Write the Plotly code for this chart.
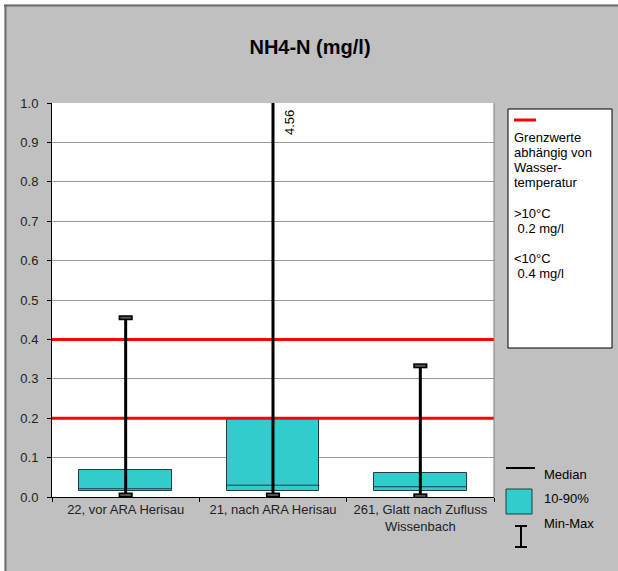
import plotly.graph_objects as go

categories = ["22, vor ARA Herisau", "21, nach ARA Herisau", "261, Glatt nach Zufluss<br>Wissenbach"]
p10 = [0.015, 0.015, 0.014]
p90 = [0.068, 0.200, 0.062]
median = [0.021, 0.030, 0.026]
vmin = [0.005, 0.005, 0.003]
vmax = [0.455, 4.56, 0.333]
limits = [0.2, 0.4]
yticks = [0.0, 0.1, 0.2, 0.3, 0.4, 0.5, 0.6, 0.7, 0.8, 0.9, 1.0]

W, H = 618, 571
L, R, T, B = 52, 494, 103, 497
TEAL = "#33CCCC"
BG = "#C0C0C0"
FONT = "Liberation Sans, Arial, sans-serif"


def px(x):
    return (x - L) / (R - L)


def py(y):
    return (B - y) / (B - T)


xs = list(range(len(categories)))
half = 0.315
cap = 0.048

fig = go.Figure()

fig.add_trace(go.Bar(
    x=xs, y=[b - a for a, b in zip(p10, p90)], base=p10, width=2 * half,
    marker=dict(color=TEAL, line=dict(color="#1f3f3f", width=1)),
    hoverinfo="skip", showlegend=False))

for lv in limits:
    fig.add_trace(go.Scatter(x=[-0.5, len(xs) - 0.5], y=[lv, lv], mode="lines",
                             line=dict(color="#FF0000", width=3), showlegend=False, hoverinfo="skip"))

for i, m in zip(xs, median):
    fig.add_trace(go.Scatter(x=[i - half, i + half], y=[m, m], mode="lines",
                             line=dict(color="#1f3f3f", width=1), showlegend=False, hoverinfo="skip"))

for i, a, b in zip(xs, vmin, vmax):
    fig.add_trace(go.Scatter(x=[i, i], y=[a, b], mode="lines",
                             line=dict(color="black", width=3), showlegend=False, hoverinfo="skip"))
    for v in (a, b):
        if v <= 1.0:
            fig.add_trace(go.Scatter(x=[i - cap, i + cap], y=[v, v], mode="lines",
                                     line=dict(color="black", width=5), showlegend=False, hoverinfo="skip"))
            fig.add_trace(go.Scatter(x=[i - cap + 0.012, i + cap - 0.012], y=[v, v], mode="lines",
                                     line=dict(color="#555555", width=2), showlegend=False, hoverinfo="skip"))
    if b > 1.0:
        fig.add_annotation(x=i, y=1.0, xref="x", yref="y", text=f"{b:.2f}", textangle=-90,
                           showarrow=False, xanchor="left", yanchor="top", xshift=7, yshift=-5,
                           font=dict(family=FONT, size=13, color="black"))

shapes = []
# white strips outside the gray frame (top and left) and dark frame lines
shapes.append(dict(type="rect", xref="paper", yref="paper", layer="below",
                   x0=px(-5), x1=px(625), y0=py(4.5), y1=py(-5),
                   fillcolor="white", line=dict(width=0)))
shapes.append(dict(type="rect", xref="paper", yref="paper", layer="below",
                   x0=px(-5), x1=px(4.5), y0=py(580), y1=py(-5),
                   fillcolor="white", line=dict(width=0)))
shapes.append(dict(type="line", xref="paper", yref="paper",
                   x0=px(4), x1=px(618), y0=py(5.5), y1=py(5.5),
                   line=dict(color="#6b6b6b", width=2)))
shapes.append(dict(type="line", xref="paper", yref="paper",
                   x0=px(5.5), x1=px(5.5), y0=py(571), y1=py(5),
                   line=dict(color="#6b6b6b", width=2)))
# right border of plot area
shapes.append(dict(type="line", xref="paper", yref="paper", x0=1, x1=1, y0=0, y1=1,
                   line=dict(color="#808080", width=1)))
# legend box
shapes.append(dict(type="rect", xref="paper", yref="paper",
                   x0=px(508), x1=px(612), y0=py(348), y1=py(109),
                   fillcolor="white", line=dict(color="black", width=1)))
shapes.append(dict(type="line", xref="paper", yref="paper",
                   x0=px(514), x1=px(536), y0=py(120), y1=py(120),
                   line=dict(color="#FF0000", width=3)))
# bottom legend: median
shapes.append(dict(type="line", xref="paper", yref="paper",
                   x0=px(506), x1=px(535), y0=py(468), y1=py(468),
                   line=dict(color="black", width=2)))
# bottom legend: box
shapes.append(dict(type="rect", xref="paper", yref="paper",
                   x0=px(506), x1=px(532), y0=py(514), y1=py(489),
                   fillcolor=TEAL, line=dict(color="#1f3f3f", width=1)))
# bottom legend: min-max I
shapes.append(dict(type="line", xref="paper", yref="paper",
                   x0=px(521), x1=px(521), y0=py(547), y1=py(526),
                   line=dict(color="black", width=2)))
for yy in (526, 547):
    shapes.append(dict(type="line", xref="paper", yref="paper",
                       x0=px(515), x1=px(527), y0=py(yy), y1=py(yy),
                       line=dict(color="black", width=2)))

annotations = []
leg_lines = [("Grenzwerte", 137), ("abhängig von", 152), ("Wasser-", 167), ("temperatur", 182),
             (">10°C", 213), ("\u00a00.2 mg/l", 228), ("<10°C", 258), ("\u00a00.4 mg/l", 273)]
for t, yy in leg_lines:
    annotations.append(dict(text=t, x=px(512), y=py(yy), xref="paper", yref="paper",
                            xanchor="left", yanchor="middle", showarrow=False,
                            font=dict(family=FONT, size=13, color="black")))
for t, yy in [("Median", 474), ("10-90%", 499), ("Min-Max", 523)]:
    annotations.append(dict(text=t, x=px(542), y=py(yy), xref="paper", yref="paper",
                            xanchor="left", yanchor="middle", showarrow=False,
                            font=dict(family=FONT, size=13, color="black")))

fig.update_layout(
    width=W, height=H,
    margin=dict(l=L, r=W - R, t=T, b=H - B, pad=0),
    paper_bgcolor=BG, plot_bgcolor="white",
    title=dict(text="<b>NH4-N (mg/l)</b>", x=px(310), xref="paper", xanchor="center",
               y=1 - 47 / H, yref="container", yanchor="middle",
               font=dict(family=FONT, size=20, color="black")),
    font=dict(family=FONT, size=13, color="black"),
    showlegend=False,
    bargap=0,
    shapes=shapes,
    annotations=list(fig.layout.annotations) + annotations,
    xaxis=dict(range=[-0.5, len(xs) - 0.5], tickmode="array", tickvals=xs, ticktext=categories,
               ticks="", showgrid=False, zeroline=False, showline=True, linecolor="black", linewidth=1,
               tickfont=dict(family=FONT, size=13, color="#222222"), fixedrange=True,
               minor=dict(tickmode="array", tickvals=[-0.5, 0.5, 1.5, 2.5], ticks="outside",
                          ticklen=4, tickcolor="black", showgrid=False)),
    yaxis=dict(range=[0, 1.0], tickmode="array", tickvals=yticks,
               ticktext=[f"{v:.1f}" for v in yticks],
               ticks="outside", ticklen=4, tickcolor="black", ticklabelstandoff=6,
               showgrid=True, gridcolor="#9a9a9a", gridwidth=1, zeroline=False,
               showline=True, linecolor="black", linewidth=1,
               tickfont=dict(family=FONT, size=13, color="#222222"), fixedrange=True),
)

fig.write_html("out.html")
